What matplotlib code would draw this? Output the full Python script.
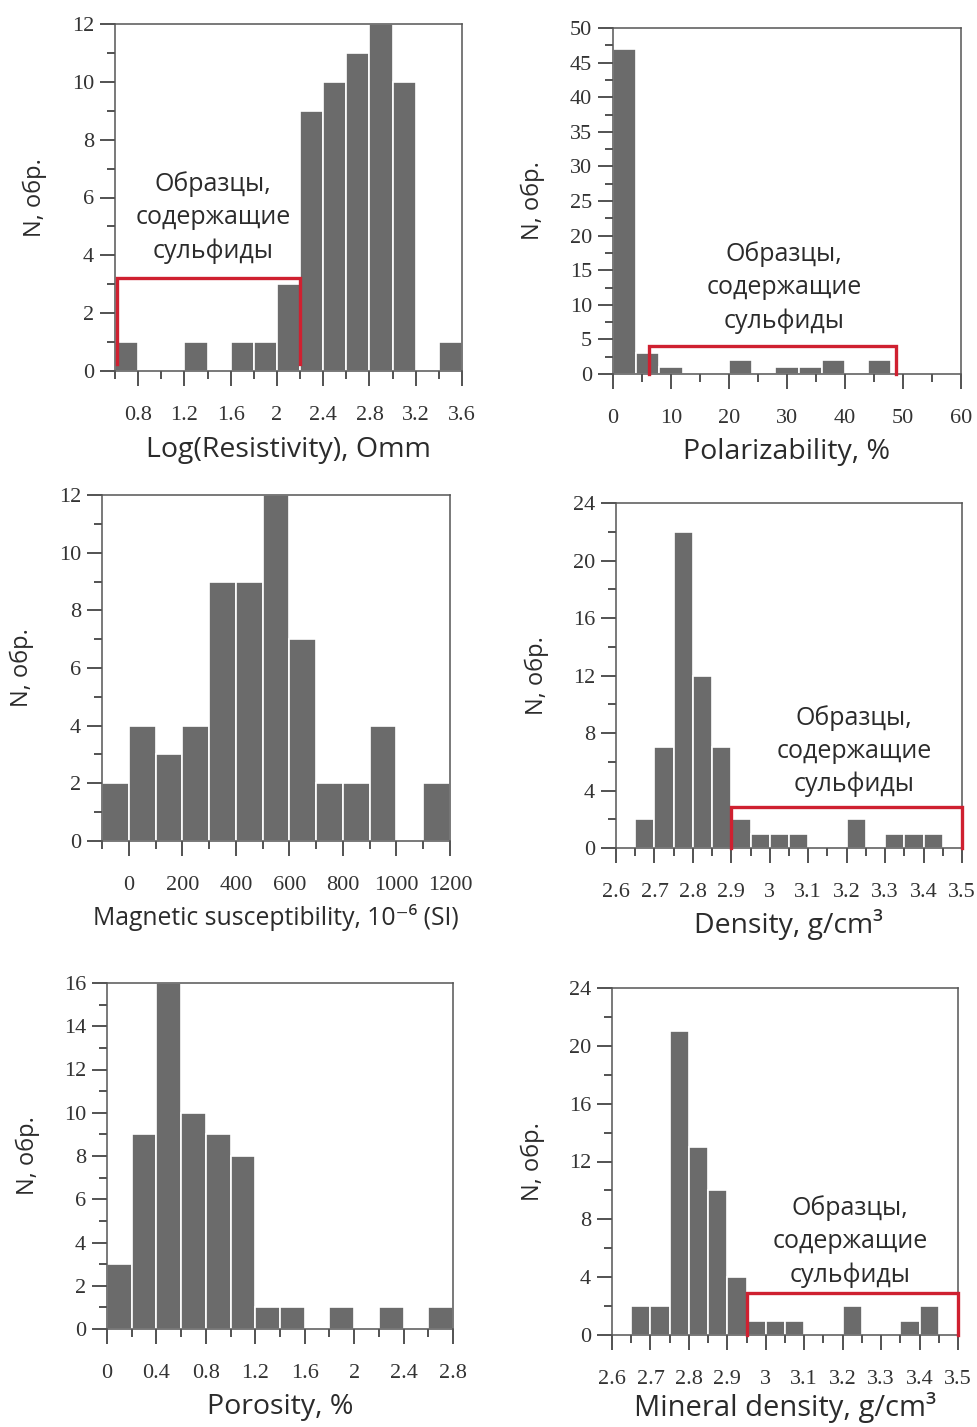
import numpy as np
import matplotlib
matplotlib.use("Agg")
import matplotlib.pyplot as plt
from matplotlib.ticker import MultipleLocator, FuncFormatter

# ---- histogram counts (samples per bin) ----
resist_counts = [1, 0, 0, 1, 0, 1, 1, 3, 9, 10, 11, 12, 10, 0, 1]
polar_counts = [47, 3, 1, 0, 0, 2, 0, 1, 1, 2, 0, 2]
magsus_counts = [2, 4, 3, 4, 9, 9, 12, 7, 2, 2, 4, 0, 2]
density_counts = [0, 2, 7, 22, 12, 7, 2, 1, 1, 1, 0, 0, 2, 0, 1, 1, 1, 0]
porosity_counts = [3, 9, 16, 10, 9, 8, 1, 1, 0, 1, 0, 1, 0, 1]
mindens_counts = [0, 2, 2, 21, 13, 10, 4, 1, 1, 1, 0, 0, 2, 0, 0, 1, 2, 0]

# ---- axis labels ----
ylabel_text = "N, обр."
xlabels = [
    "Log(Resistivity), Omm",
    "Polarizability, %",
    "Magnetic susceptibility, 10⁻⁶ (SI)",
    "Density, g/cm³",
    "Porosity, %",
    "Mineral density, g/cm³",
]
sulfide_note = "Образцы,\nсодержащие\nсульфиды"

BAR = "#6b6b6b"
RED = "#cf2030"
INK = "#2b2b2b"
SERIF = ["Liberation Serif", "DejaVu Serif"]
SANS = ["Open Sans", "DejaVu Sans"]

W, H = 978, 1427
fig = plt.figure(figsize=(W / 100, H / 100), dpi=100)
fig.patch.set_facecolor("white")


def make_axes(left, top, right, bottom):
    return fig.add_axes([left / W, 1 - bottom / H, (right - left) / W, (bottom - top) / H])


def fmt(v, p):
    return f"{round(v, 6):g}"


def style(ax, xlim, ylim, xmaj, xmin, ymaj, ymin, xlabel, xlsize=20.5, xly=-0.222,
          xticks=None):
    ax.set_xlim(*xlim)
    ax.set_ylim(*ylim)
    if xticks is None:
        ax.xaxis.set_major_locator(MultipleLocator(xmaj))
    else:
        ax.set_xticks(xticks)
    ax.xaxis.set_minor_locator(MultipleLocator(xmin))
    ax.yaxis.set_major_locator(MultipleLocator(ymaj))
    ax.yaxis.set_minor_locator(MultipleLocator(ymin))
    ax.xaxis.set_major_formatter(FuncFormatter(fmt))
    ax.yaxis.set_major_formatter(FuncFormatter(fmt))
    ax.set_xlim(*xlim)
    for s in ax.spines.values():
        s.set_color("#555555")
        s.set_linewidth(1.1)
    ax.tick_params(axis="both", which="both", direction="out", color="#444444",
                   width=1.3, top=False, right=False, labelsize=16,
                   labelcolor="#333333", labelfontfamily=SERIF)
    ax.tick_params(axis="both", which="major", length=11)
    ax.tick_params(axis="both", which="minor", length=5.5)
    ax.tick_params(axis="x", which="major", pad=14)
    ax.tick_params(axis="y", which="major", pad=4)
    ax.set_ylabel(ylabel_text, family=SANS, fontsize=17, color=INK)
    ax.yaxis.set_label_coords(-0.195, 0.5)
    ax.set_xlabel(xlabel, family=SANS, fontsize=xlsize, color=INK, va="center")
    ax.xaxis.set_label_coords(0.5, xly)


def bars(ax, start, width, counts):
    edges = start + width * np.arange(len(counts))
    ax.bar(edges, counts, width=width, align="edge", color=BAR,
           edgecolor="white", linewidth=1.2, zorder=2)


def bracket(ax, x0, x1, y0, y1):
    ax.plot([x0, x0, x1, x1], [y0, y1, y1, y0], color=RED, lw=2.4,
            solid_joinstyle="miter", clip_on=False, zorder=4)


def note(ax, x, y):
    ax.text(x, y, sulfide_note, ha="center", va="center", family=SANS,
            fontsize=18, color=INK, linespacing=1.42, zorder=5)


# Resistivity
ax1 = make_axes(115, 24, 462, 371)
bars(ax1, 0.6, 0.2, resist_counts)
style(ax1, (0.6, 3.6), (0, 12), 0.4, 0.2, 2, 1, xlabels[0], 20.5, -0.228,
      xticks=np.arange(0.8, 3.61, 0.4))
bracket(ax1, 0.62, 2.2, 0.25, 3.2)
note(ax1, 1.45, 5.3)

# Polarizability
ax2 = make_axes(613, 28, 961, 374)
bars(ax2, 0, 4, polar_counts)
style(ax2, (0, 60), (0, 50), 10, 5, 5, 2.5, xlabels[1], 20.5, -0.225)
bracket(ax2, 6.2, 48.8, 0, 4)
note(ax2, 29.5, 12.5)

# Magnetic susceptibility
ax3 = make_axes(102, 495, 450, 841)
bars(ax3, -100, 100, magsus_counts)
style(ax3, (-100, 1200), (0, 12), 200, 100, 2, 1, xlabels[2], 17.8, -0.22)

# Density
ax4 = make_axes(616, 503, 962, 848)
bars(ax4, 2.6, 0.05, density_counts)
style(ax4, (2.6, 3.5), (0, 24), 0.1, 0.05, 4, 2, xlabels[3], 20.4, -0.222)
bracket(ax4, 2.9, 3.5, 0, 2.85)
note(ax4, 3.22, 6.75)

# Porosity
ax5 = make_axes(107, 983, 453, 1329)
bars(ax5, 0, 0.2, porosity_counts)
style(ax5, (0, 2.8), (0, 16), 0.4, 0.2, 2, 1, xlabels[4], 20.5, -0.225)

# Mineral density
ax6 = make_axes(612, 988, 958, 1335)
bars(ax6, 2.6, 0.05, mindens_counts)
style(ax6, (2.6, 3.5), (0, 24), 0.1, 0.05, 4, 2, xlabels[5], 21, -0.208)
bracket(ax6, 2.95, 3.5, 0, 2.9)
note(ax6, 3.22, 6.45)

fig.savefig("out.png", dpi=100, facecolor="white")
